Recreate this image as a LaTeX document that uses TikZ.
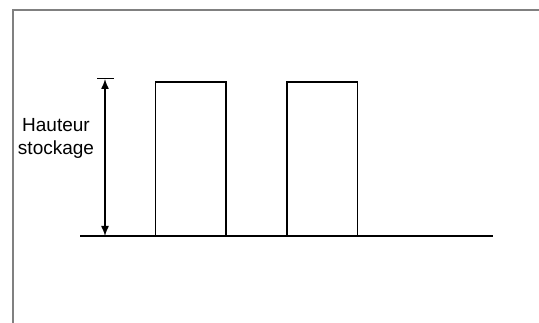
\documentclass[tikz,border=0pt]{standalone}
\usepackage{fontspec}
\setmainfont{Liberation Sans}
\usetikzlibrary{arrows.meta,positioning}

\begin{document}
\begin{tikzpicture}[
  x=1pt,y=1pt,
  frame/.style={draw=black!50,line width=2pt},
  bar/.style={draw,line width=1.6pt,inner sep=0pt,outer sep=0pt,minimum width=70.5pt,minimum height=154pt},
  base/.style={line width=1.6pt},
  dim/.style={line width=1.4pt,{Latex[length=10pt,width=8pt]}-{Latex[length=10pt,width=8pt]}},
  lbl/.style={align=center,font=\fontsize{19}{23}\selectfont}
]
\useasboundingbox (0,0) rectangle (539,-323);
\draw[frame] (13,-323) -- (13,-10) -- (539,-10);
\coordinate (bl) at (80,-236);
\coordinate (br) at (493,-236);
\node[bar,anchor=south west] (b1) at (155.5,-236) {};
\node[bar,right=61pt of b1] (b2) {};
\coordinate (htop) at (105,-79);
\coordinate (hbot) at (105,-236);
\coordinate (tl) at (97,-78.5);
\coordinate (tr) at (114,-78.5);
\node[lbl] (haut) at (56,-138) {Hauteur\\stockage};
\draw[base] (bl) -- (br);
\draw[base] (tl) -- (tr);
\draw[dim] (htop) -- (hbot);
\end{tikzpicture}
\end{document}
